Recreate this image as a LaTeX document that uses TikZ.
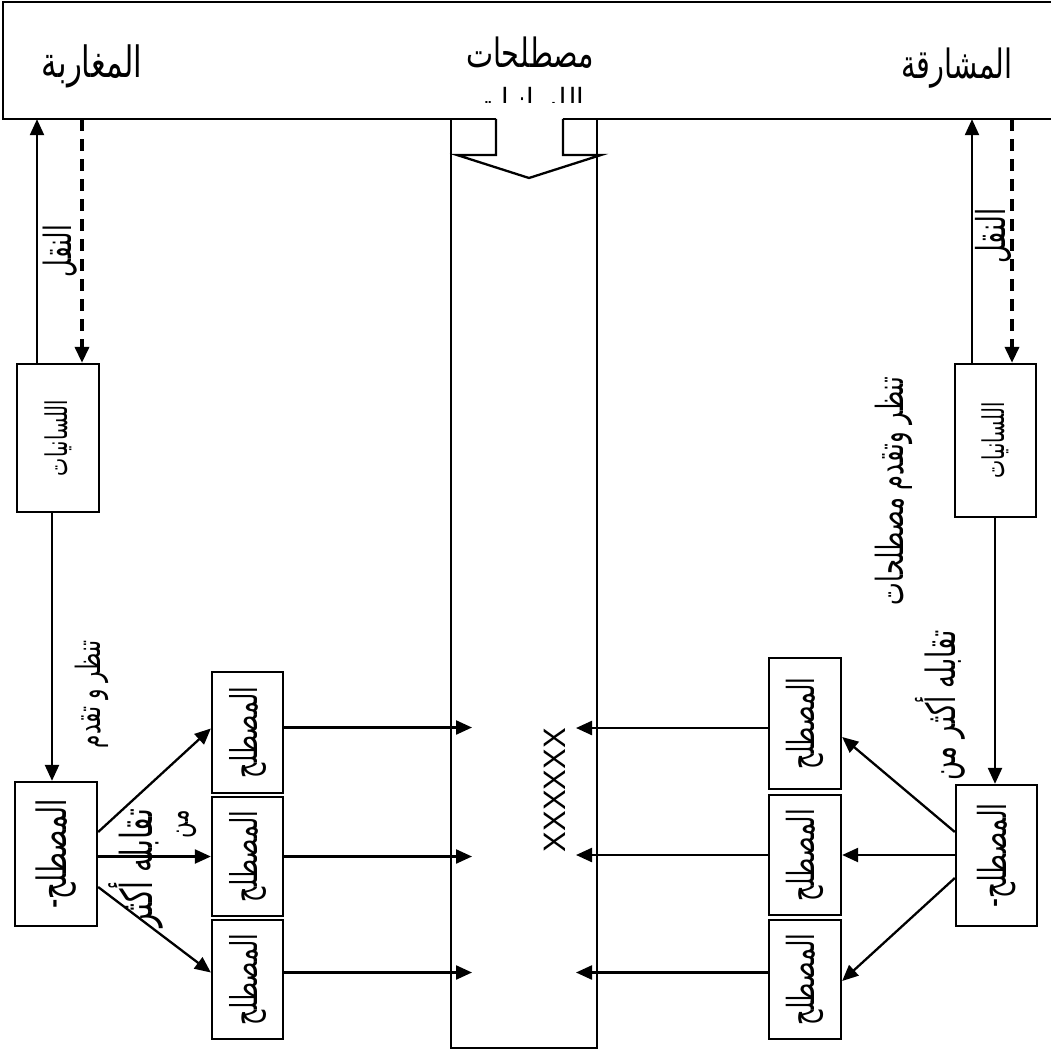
\documentclass[tikz,border=0pt]{standalone}
\usepackage{graphicx}
\usepackage{fontspec}
\setmainfont{Liberation Sans}
\newfontfamily\arabicfont[Script=Arabic]{DejaVu Sans}
\TeXXeTstate=1
\usetikzlibrary{arrows.meta,calc}
\newcommand\artxt[3][1.55]{\scalebox{1}[#1]{\resizebox{#2}{!}{\arabicfont #3}}}
\tikzset{
  tbox/.style={draw, line width=2.3pt, inner sep=0pt},
  conn/.style={line width=2.3pt, -{Triangle[length=16pt,width=14pt]}},
  dconn/.style={line width=3.5pt, dash pattern=on 12pt off 8pt, -{Triangle[length=16pt,width=14pt]}},
  lbl/.style={inner sep=0pt},
}
\begin{document}
\begin{tikzpicture}[x=1pt,y=-1pt]
\useasboundingbox (0,0) rectangle (1051,1051);
% banner and column frames
\node[minimum width=1050pt, minimum height=117pt, inner sep=0pt] (banner) at (528,60.5) {};
\node[minimum width=146pt, minimum height=929pt, inner sep=0pt] (col) at (524,583.5) {};
\draw[line width=2pt] (1051,2) -- (3,2) -- (3,119) -- (496,119);
\draw[line width=2pt] (563,119) -- (1051,119);
\draw[line width=2.3pt] (col.north west) -- (col.south west) -- (col.south east) -- (col.north east);
\draw[line width=2.3pt, line join=miter] (496,119) -- (496,155) -- (457,155) -- (529,178) -- (601,155) -- (563,155) -- (563,119);
% banner texts
\node[lbl] (tW) at (92,66) {\artxt[1.4]{100pt}{\beginR المغاربة\endR}};
\node[lbl] (tC) at (530,53) {\artxt[1.4]{128pt}{\beginR مصطلحات\endR}};
\node[lbl] (tE) at (957,68) {\artxt[1.4]{111pt}{\beginR المشارقة\endR}};
\begin{scope}
\clip (420,80) rectangle (640,103);
\node[lbl] (tC2) at (530,105) {\artxt[1.4]{108pt}{\beginR اللسانيات\endR}};
\end{scope}
% boxes
\node[tbox, minimum width=82pt, minimum height=148pt] (lsL) at (58,438) {\rotatebox{90}{\artxt{76pt}{\beginR اللسانيات\endR}}};
\node[tbox, minimum width=81pt, minimum height=153pt] (lsR) at (995.5,440.5) {\rotatebox{90}{\artxt{76pt}{\beginR اللسانيات\endR}}};
\node[tbox, minimum width=82pt, minimum height=144pt] (termL) at (56,854) {\rotatebox{90}{\artxt{109pt}{\beginR المصطلح-\endR}}};
\node[tbox, minimum width=81pt, minimum height=141pt] (termR) at (996.5,855.5) {\rotatebox{90}{\artxt{104pt}{\beginR المصطلح-\endR}}};
\node[tbox, minimum width=71pt, minimum height=121pt] (mL1) at (247.5,732.5) {\rotatebox{90}{\artxt{91pt}{\beginR المصطلح\endR}}};
\node[tbox, minimum width=71pt, minimum height=119pt] (mL2) at (247.5,856.5) {\rotatebox{90}{\artxt{91pt}{\beginR المصطلح\endR}}};
\node[tbox, minimum width=71pt, minimum height=119pt] (mL3) at (247.5,979.5) {\rotatebox{90}{\artxt{91pt}{\beginR المصطلح\endR}}};
\node[tbox, minimum width=72pt, minimum height=131pt] (mR1) at (805,723.5) {\rotatebox{90}{\artxt{92pt}{\beginR المصطلح\endR}}};
\node[tbox, minimum width=72pt, minimum height=120pt] (mR2) at (805,855) {\rotatebox{90}{\artxt{92pt}{\beginR المصطلح\endR}}};
\node[tbox, minimum width=72pt, minimum height=119pt] (mR3) at (805,979.5) {\rotatebox{90}{\artxt{92pt}{\beginR المصطلح\endR}}};
% free-end x positions
\coordinate (xLup) at (37,0);
\coordinate (xLdn) at (82,0);
\coordinate (xRup) at (972,0);
\coordinate (xRdn) at (1012,0);
\coordinate (xLv) at (52,0);
\coordinate (xRv) at (995,0);
\coordinate (tipL) at (472,0);
\coordinate (tipR) at (576,0);
% up / down arrows to banner
\draw[conn] (lsL.north -| xLup) -- (banner.south -| xLup);
\draw[dconn] (banner.south -| xLdn) -- (lsL.north -| xLdn);
\draw[conn] (lsR.north -| xRup) -- (banner.south -| xRup);
\draw[dconn] (banner.south -| xRdn) -- (lsR.north -| xRdn);
% down arrows from linguistics boxes
\draw[conn] (lsL.south -| xLv) -- (termL.north -| xLv);
\draw[conn] (lsR.south -| xRv) -- (termR.north -| xRv);
% fan-out left
\draw[conn] ($(termL.east)+(0,-22)$) -- ($(mL1.west)+(0,-4)$);
\draw[conn] (termL.east |- mL2.west) -- (mL2.west);
\draw[conn] ($(termL.east)+(0,33)$) -- ($(mL3.west)+(0,-7)$);
% fan-out right
\draw[conn] ($(termR.west)+(0,-23.5)$) -- ($(mR1.east)+(0,13.5)$);
\draw[conn] (termR.west |- mR2.east) -- (mR2.east);
\draw[conn] ($(termR.west)+(0,22.5)$) -- ($(mR3.east)+(0,1.5)$);
% into column
\coordinate (l1) at ($(mL1.east)+(0,-5)$);
\coordinate (l3) at ($(mL3.east)+(0,-7)$);
\coordinate (r1) at ($(mR1.west)+(0,4.5)$);
\coordinate (r3) at ($(mR3.west)+(0,-7)$);
\draw[conn] (l1) -- (l1 -| tipL);
\draw[conn] (mL2.east) -- (mL2.east -| tipL);
\draw[conn] (l3) -- (l3 -| tipL);
\draw[conn] (r1) -- (r1 -| tipR);
\draw[conn] (mR2.west) -- (mR2.west -| tipR);
\draw[conn] (r3) -- (r3 -| tipR);
% labels
\node[lbl] (nqL) at (60,251) {\rotatebox{90}{\artxt{52pt}{\beginR النقل\endR}}};
\node[lbl] (nqR) at (993,236) {\rotatebox{90}{\artxt{55pt}{\beginR النقل\endR}}};
\node[lbl] (xs) at (555,790) {\rotatebox{90}{\fontsize{31}{31}\selectfont XXXXXX}};
\node[lbl] (lblL1) at (92,694) {\rotatebox{90}{\artxt{108pt}{\beginR تنظر و تقدم\endR}}};
\node[lbl] (lblL2) at (136,868) {\rotatebox{90}{\artxt{118pt}{\beginR تقابله أكثر\endR}}};
\node[lbl] (lblL3) at (187,824) {\rotatebox{90}{\artxt{28pt}{\beginR من\endR}}};
\node[lbl] (lblR1) at (894,491) {\rotatebox{90}{\artxt{228pt}{\beginR تنظر وتقدم مصطلحات\endR}}};
\node[lbl] (lblR2) at (940,705) {\rotatebox{90}{\artxt{150pt}{\beginR تقابله أكثر من\endR}}};
\end{tikzpicture}
\end{document}
